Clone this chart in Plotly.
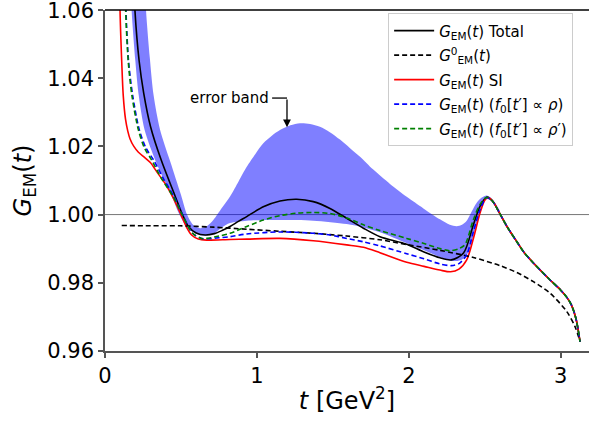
import plotly.graph_objects as go

# t in GeV^2, G_EM(t) values
total_t = [0.185, 0.197, 0.225, 0.255, 0.30, 0.37, 0.455, 0.51, 0.549, 0.60, 0.66, 0.72, 0.77,
           0.823, 0.878, 0.933, 1.042, 1.152, 1.262, 1.371, 1.481, 1.591, 1.701, 1.81, 1.986,
           2.1, 2.205, 2.28, 2.36, 2.425, 2.469, 2.513, 2.55]
total_g = [1.075, 1.06, 1.045, 1.0356, 1.0258, 1.016, 1.0062, 1.000, 0.9965, 0.9946, 0.9940,
           0.9944, 0.9953, 0.9965, 0.998, 0.9994, 1.0023, 1.004, 1.0045, 1.0038, 1.0018, 0.9989,
           0.996, 0.9935, 0.9913, 0.989, 0.9873, 0.9867, 0.9887, 0.9970, 1.0025, 1.0051, 1.0040]

si_t = [0.097, 0.099, 0.110, 0.120, 0.135, 0.150, 0.165, 0.19, 0.22, 0.26, 0.30, 0.34, 0.40,
        0.45, 0.50, 0.54, 0.57, 0.614, 0.669, 0.823, 0.933, 1.152, 1.371, 1.591, 1.701, 1.81,
        1.986, 2.1, 2.205, 2.275, 2.33, 2.381, 2.425, 2.469, 2.50, 2.524, 2.56]
si_g = [1.075, 1.06, 1.045, 1.035, 1.028, 1.0245, 1.0222, 1.0200, 1.0183, 1.0168, 1.0152,
        1.0126, 1.0088, 1.0048, 1.000, 0.9960, 0.9940, 0.9928, 0.9925, 0.9927, 0.9928, 0.993,
        0.9923, 0.9911, 0.9904, 0.9888, 0.9860, 0.9848, 0.9837, 0.9832, 0.9840, 0.9867, 0.9930,
        1.0005, 1.0042, 1.0050, 1.0035]

rho_t = [0.133, 0.138, 0.155, 0.182, 0.225, 0.27, 0.32, 0.385, 0.455, 0.512, 0.576, 0.636,
         0.669, 0.75, 0.823, 0.933, 1.152, 1.371, 1.481, 1.591, 1.701, 1.81, 1.986, 2.1, 2.205,
         2.28, 2.33, 2.381, 2.425, 2.469, 2.513, 2.55]
rho_g = [1.075, 1.06, 1.045, 1.035, 1.025, 1.0195, 1.016, 1.0105, 1.0052, 0.9998, 0.9945,
         0.9930, 0.9929, 0.9932, 0.9935, 0.9943, 0.9949, 0.9945, 0.9940, 0.9930, 0.9920, 0.9908,
         0.9885, 0.9870, 0.9855, 0.9850, 0.9856, 0.9882, 0.9950, 1.0015, 1.0050, 1.0040]

rhop_t = [0.131, 0.136, 0.153, 0.177, 0.219, 0.26, 0.307, 0.373, 0.45, 0.51, 0.576, 0.636,
          0.669, 0.75, 0.823, 0.933, 1.042, 1.152, 1.262, 1.371, 1.481, 1.591, 1.701, 1.81,
          1.986, 2.1, 2.205, 2.27, 2.33, 2.37, 2.425, 2.469, 2.513, 2.55]
rhop_g = [1.075, 1.06, 1.045, 1.035, 1.025, 1.0195, 1.016, 1.0105, 1.0052, 0.9998, 0.9945,
          0.9930, 0.9930, 0.9937, 0.9945, 0.9965, 0.9984, 0.9997, 1.0004, 1.0006, 1.0003, 0.9990,
          0.9970, 0.9953, 0.9930, 0.9915, 0.9900, 0.9894, 0.9900, 0.9912, 0.9985, 1.0030, 1.0051,
          1.0040]

# common tail where all the full curves coincide
tail_t = [2.6, 2.65, 2.71, 2.76, 2.82, 2.93, 3.0, 3.04, 3.07, 3.1, 3.127]
tail_g = [1.0002, 0.9962, 0.9921, 0.9888, 0.9858, 0.9808, 0.9778, 0.9757, 0.9735, 0.9695, 0.9627]

g0_t = [0.11, 0.3, 0.494, 0.713, 0.933, 1.152, 1.371, 1.591, 1.81, 1.986, 2.205, 2.425, 2.6,
        2.71, 2.82, 2.93, 3.04, 3.094, 3.127]
g0_g = [0.9968, 0.9967, 0.9967, 0.9963, 0.9957, 0.9951, 0.9945, 0.9937, 0.9926, 0.9912,
        0.9895, 0.9874, 0.9850, 0.9830, 0.9803, 0.9769, 0.9715, 0.9671, 0.9627]

band_up_t = [0.26, 0.27, 0.295, 0.32, 0.362, 0.43, 0.50, 0.54, 0.58, 0.625, 0.67, 0.713, 0.77,
             0.823, 0.88, 0.933, 0.99, 1.042, 1.10, 1.152, 1.22, 1.284, 1.35, 1.415, 1.48,
             1.547, 1.613, 1.679, 1.766, 1.876, 1.986, 2.096, 2.205, 2.27, 2.315, 2.35, 2.381,
             2.415, 2.447, 2.48, 2.513, 2.55, 2.6]
band_up_g = [1.07, 1.06, 1.046, 1.035, 1.025, 1.0155, 1.0058, 1.000, 0.9970, 0.9960, 0.9966,
             0.9984, 1.0020, 1.0053, 1.0098, 1.014, 1.0178, 1.0209, 1.0232, 1.0248, 1.0262,
             1.0268, 1.0266, 1.0258, 1.0242, 1.0220, 1.0195, 1.0170, 1.0132, 1.0090, 1.0052,
             1.0018, 0.9986, 0.9970, 0.9966, 0.9970, 0.9982, 1.0010, 1.0035, 1.0050, 1.0056,
             1.0045, 1.0010]
band_lo_t = [0.165, 0.175, 0.20, 0.222, 0.26, 0.34, 0.44, 0.49, 0.54, 0.60, 0.66, 0.72, 0.77,
             0.823, 0.933, 1.152, 1.371, 1.591, 1.701, 1.81, 1.99, 2.1, 2.2, 2.28, 2.34, 2.38,
             2.42, 2.46, 2.49, 2.513, 2.55, 2.6]
band_lo_g = [1.07, 1.06, 1.045, 1.035, 1.025, 1.015, 1.0053, 1.000, 0.9962, 0.9944, 0.9938,
             0.9945, 0.9962, 0.9975, 0.9982, 0.9984, 0.9982, 0.9972, 0.9962, 0.9948, 0.9915,
             0.9895, 0.9876, 0.9864, 0.9866, 0.9880, 0.9928, 0.9995, 1.0035, 1.0046, 1.0038,
             1.0008]

y_ticks = [0.96, 0.98, 1.00, 1.02, 1.04, 1.06]
x_ticks = [0, 1, 2, 3]

GEM = "<i>G</i><sub>EM</sub>(<i>t</i>)"
FONT = "DejaVu Sans"
DASH = "5px,3px"
SMOOTH = 0.8

fig = go.Figure()

fig.add_trace(go.Scatter(
    x=band_up_t + band_lo_t[::-1],
    y=band_up_g + band_lo_g[::-1],
    fill="toself", fillcolor="rgba(0,0,255,0.5)",
    mode="lines", line=dict(width=0, shape="spline", smoothing=SMOOTH),
    showlegend=False, hoverinfo="skip"
))

fig.add_trace(go.Scatter(
    x=total_t + tail_t, y=total_g + tail_g, mode="lines",
    line=dict(color="black", width=1.6, shape="spline", smoothing=SMOOTH),
    name=GEM + " Total", legendrank=1, legendgroup="a"
))
fig.add_trace(go.Scatter(
    x=si_t + tail_t, y=si_g + tail_g, mode="lines",
    line=dict(color="#ff0000", width=1.6, shape="spline", smoothing=SMOOTH),
    name=GEM + " SI", legendrank=3, legendgroup="c"
))
fig.add_trace(go.Scatter(
    x=g0_t, y=g0_g, mode="lines",
    line=dict(color="black", width=1.6, dash=DASH, shape="spline", smoothing=SMOOTH),
    name="<i>G</i><sup>0</sup><sub>EM</sub>(<i>t</i>)", legendrank=2, legendgroup="b"
))
fig.add_trace(go.Scatter(
    x=rho_t + tail_t, y=rho_g + tail_g, mode="lines",
    line=dict(color="#0000ff", width=1.6, dash=DASH, shape="spline", smoothing=SMOOTH),
    name=GEM + " (<i>f</i><sub>0</sub>[<i>t</i>′] ∝ <i>ρ</i>)", legendrank=4, legendgroup="d"
))
fig.add_trace(go.Scatter(
    x=rhop_t + tail_t, y=rhop_g + tail_g, mode="lines",
    line=dict(color="#008000", width=1.6, dash=DASH, shape="spline", smoothing=SMOOTH),
    name=GEM + " (<i>f</i><sub>0</sub>[<i>t</i>′] ∝ <i>ρ</i>′)", legendrank=5, legendgroup="e"
))

# reference line at 1 and top frame line
fig.add_shape(type="line", xref="paper", x0=0, x1=1, yref="y", y0=1.0, y1=1.0,
              line=dict(color="#777777", width=1), layer="between")
fig.add_shape(type="line", xref="paper", x0=0, x1=1, yref="paper", y0=1, y1=1,
              line=dict(color="black", width=1.5))

# "error band" label with bent arrow
fig.add_annotation(x=1.093, y=1.0342, text="error band", showarrow=False,
                   xanchor="right", yanchor="middle", font=dict(size=15, color="black"))
fig.add_shape(type="line", x0=1.10, x1=1.198, y0=1.0342, y1=1.0342,
              line=dict(color="black", width=1.3))
fig.add_annotation(x=1.198, y=1.0256, ax=1.198, ay=1.0342, axref="x", ayref="y",
                   text="", showarrow=True, arrowhead=2, arrowsize=1.2, arrowwidth=1.3,
                   arrowcolor="black")

fig.update_layout(
    width=589, height=424,
    margin=dict(l=105, r=0, t=10, b=73, autoexpand=False),
    paper_bgcolor="white", plot_bgcolor="white",
    font=dict(family=FONT, color="black"),
    legend=dict(
        x=0.585, y=0.99, xanchor="left", yanchor="top",
        bgcolor="rgba(255,255,255,0.8)", bordercolor="#cccccc", borderwidth=1,
        font=dict(size=15, family=FONT), traceorder="grouped", tracegroupgap=2,
        itemwidth=40
    )
)

fig.update_xaxes(
    range=[0, 3.186], tickvals=x_ticks, ticktext=[str(v) for v in x_ticks],
    showgrid=False, zeroline=False, showline=True, linecolor="#555555", linewidth=1.5,
    ticks="outside", ticklen=5, tickwidth=1.5, tickcolor="#555555", automargin=False,
    ticklabeloverflow="allow",
    tickfont=dict(size=21), title=dict(text="<i>t</i> [GeV<sup>2</sup>]", font=dict(size=24), standoff=5)
)
fig.update_yaxes(
    range=[0.95995, 1.06005], tickvals=y_ticks, ticktext=[f"{v:.2f}" for v in y_ticks],
    showgrid=False, zeroline=False, showline=True, linecolor="#555555", linewidth=1.5,
    ticks="outside", ticklen=5, tickwidth=1.5, tickcolor="#555555", automargin=False,
    ticklabeloverflow="allow",
    tickfont=dict(size=21), title=dict(text=GEM, font=dict(size=24), standoff=9)
)

# the page body has a default 8px margin; drop it so the figure sits at the window corner
fig.write_html("out.html", config={"displayModeBar": False},
               post_script="document.body.style.margin='0';")
